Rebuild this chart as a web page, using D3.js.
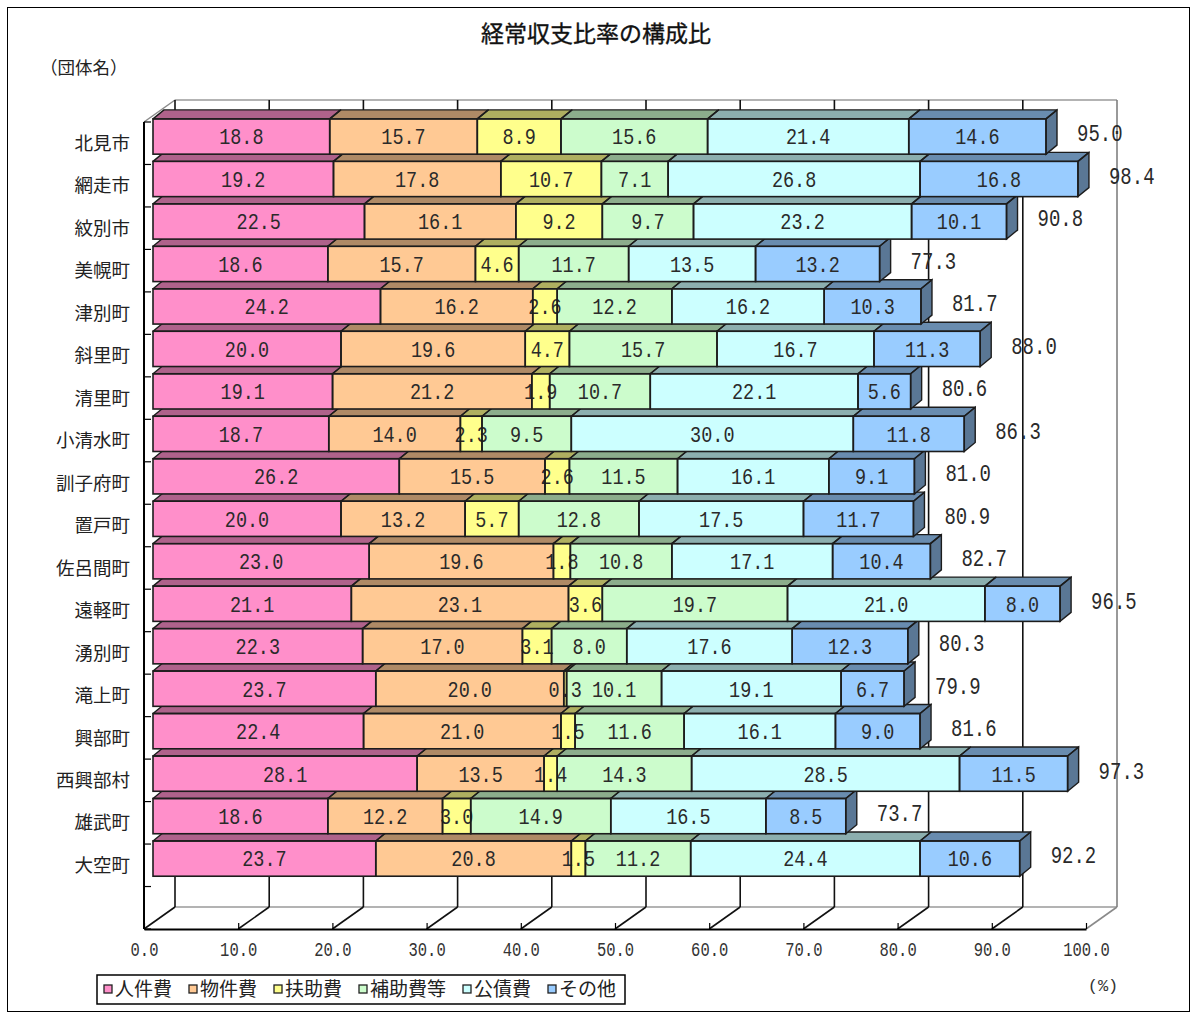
<!DOCTYPE html>
<html>
<head>
<meta charset="utf-8">
<script src="https://cdn.jsdelivr.net/npm/d3@7"></script>
<style>
  body { margin: 0; background: #fff; }
  svg { display: block; }
</style>
</head>
<body>
<svg id="chart" width="1197" height="1019"></svg>
<script>
// ---- data -------------------------------------------------------------
const categories = ["北見市", "網走市", "紋別市", "美幌町", "津別町", "斜里町", "清里町", "小清水町", "訓子府町",
  "置戸町", "佐呂間町", "遠軽町", "湧別町", "滝上町", "興部町", "西興部村", "雄武町", "大空町"];
const seriesNames = ["人件費", "物件費", "扶助費", "補助費等", "公債費", "その他"];

const personnel = [18.8, 19.2, 22.5, 18.6, 24.2, 20.0, 19.1, 18.7, 26.2, 20.0, 23.0, 21.1, 22.3, 23.7, 22.4, 28.1, 18.6, 23.7];
const goods     = [15.7, 17.8, 16.1, 15.7, 16.2, 19.6, 21.2, 14.0, 15.5, 13.2, 19.6, 23.1, 17.0, 20.0, 21.0, 13.5, 12.2, 20.8];
const welfare   = [8.9, 10.7, 9.2, 4.6, 2.6, 4.7, 1.9, 2.3, 2.6, 5.7, 1.8, 3.6, 3.1, 0.3, 1.5, 1.4, 3.0, 1.5];
const subsidies = [15.6, 7.1, 9.7, 11.7, 12.2, 15.7, 10.7, 9.5, 11.5, 12.8, 10.8, 19.7, 8.0, 10.1, 11.6, 14.3, 14.9, 11.2];
const debt      = [21.4, 26.8, 23.2, 13.5, 16.2, 16.7, 22.1, 30.0, 16.1, 17.5, 17.1, 21.0, 17.6, 19.1, 16.1, 28.5, 16.5, 24.4];
const other     = [14.6, 16.8, 10.1, 13.2, 10.3, 11.3, 5.6, 11.8, 9.1, 11.7, 10.4, 8.0, 12.3, 6.7, 9.0, 11.5, 8.5, 10.6];
const totals    = [95.0, 98.4, 90.8, 77.3, 81.7, 88.0, 80.6, 86.3, 81.0, 80.9, 82.7, 96.5, 80.3, 79.9, 81.6, 97.3, 73.7, 92.2];

const xTickValues = [0, 10, 20, 30, 40, 50, 60, 70, 80, 90, 100];

// ---- styles -----------------------------------------------------------
const seriesColors = ["#ff8fca", "#ffc994", "#ffff8c", "#ccfccc", "#ccffff", "#99ccff"];
const jpFont = "'Noto Sans CJK JP', 'Noto Sans', sans-serif";
const numFont = "'Liberation Mono', 'DejaVu Sans Mono', monospace";
const edge = "#1c1c1c";

const table = categories.map((name, i) => ({
  name,
  "人件費": personnel[i], "物件費": goods[i], "扶助費": welfare[i],
  "補助費等": subsidies[i], "公債費": debt[i], "その他": other[i],
  total: totals[i]
}));
const stacked = d3.stack().keys(seriesNames)(table);

// ---- geometry of the 3-D box -----------------------------------------
const svg = d3.select("#chart");
const frontTop = 122, frontBottom = 929;
const depthX = 31, depthY = -22;           // offset from the front plane to the back wall
const barDX = 11, barDY = -9;               // thickness of each bar
const barShiftX = 9, barShiftY = -6.7;      // bars sit a little behind the front plane

const xFront = d3.scaleLinear().domain([0, 100]).range([144, 1086]);
const xBack = d3.scaleLinear().domain([0, 100]).range([144 + depthX, 1086 + depthX]);
const xBar = d3.scaleLinear().domain([0, 100]).range([144 + barShiftX, 1084 + barShiftX]);

// the category axis has one empty slot below the last municipality
const slot = (frontBottom - frontTop) / (categories.length + 1);
const y = d3.scaleBand().domain(categories)
  .range([frontTop, frontTop + slot * categories.length])
  .paddingInner(0.17).paddingOuter(0.085);

const backTop = frontTop + depthY, backBottom = frontBottom + depthY;

// outer frame
svg.append("rect").attr("x", 7.5).attr("y", 7.5).attr("width", 1182).attr("height", 1004)
  .attr("fill", "#fff").attr("stroke", "#000").attr("stroke-width", 1);

// title
svg.append("text").attr("x", 596).attr("y", 42).attr("text-anchor", "middle")
  .attr("font-family", jpFont).attr("font-size", 23).attr("fill", "#111")
  .attr("stroke", "#111").attr("stroke-width", 0.35)
  .text("経常収支比率の構成比");

svg.append("text").attr("x", 40).attr("y", 74)
  .attr("font-family", jpFont).attr("font-size", 17.5).attr("fill", "#222")
  .text("（団体名）");

// ---- walls and floor ---------------------------------------------------
const box = svg.append("g").attr("fill", "none");
// back wall frame
box.append("line").attr("x1", xBack(0)).attr("x2", xBack(100)).attr("y1", backTop).attr("y2", backTop)
  .attr("stroke", "#9a9a9a").attr("stroke-width", 1.5);
box.append("line").attr("x1", xBack(0)).attr("x2", xBack(100)).attr("y1", backBottom).attr("y2", backBottom)
  .attr("stroke", "#9a9a9a").attr("stroke-width", 1.5);
box.append("line").attr("x1", xBack(100)).attr("x2", xBack(100)).attr("y1", backTop).attr("y2", backBottom)
  .attr("stroke", "#777").attr("stroke-width", 1.5);
// left wall edge
box.append("line").attr("x1", xFront(0)).attr("y1", frontTop).attr("x2", xBack(0)).attr("y2", backTop)
  .attr("stroke", "#8a8a8a").attr("stroke-width", 1.5);
// vertical gridlines on the back wall
box.selectAll("line.grid").data(xTickValues.filter(d => d < 100)).join("line")
  .attr("class", "grid")
  .attr("x1", d => xBack(d)).attr("x2", d => xBack(d))
  .attr("y1", backTop).attr("y2", backBottom)
  .attr("stroke", "#111").attr("stroke-width", 1.6);
// floor diagonals
box.selectAll("line.floor").data(xTickValues).join("line")
  .attr("class", "floor")
  .attr("x1", d => xFront(d)).attr("y1", frontBottom)
  .attr("x2", d => xBack(d)).attr("y2", backBottom)
  .attr("stroke", d => d === 100 ? "#8a8a8a" : "#111").attr("stroke-width", 1.6);

// front value axis
const xAxis = svg.append("g").attr("transform", `translate(0,${frontBottom})`)
  .call(d3.axisBottom(xFront).tickValues(xTickValues).tickSizeInner(-6).tickSizeOuter(0)
    .tickFormat(d3.format(".1f")));
xAxis.select(".domain").attr("stroke", "#000").attr("stroke-width", 2);
xAxis.selectAll(".tick line").attr("stroke", "#000").attr("stroke-width", 1.2);
xAxis.selectAll(".tick text")
  .attr("y", null).attr("dy", "0.36em")
  .attr("transform", "translate(0,19) scale(1,1.35)")
  .attr("font-family", numFont).attr("font-size", 15.5).attr("fill", "#333");

// front category axis
const catAxis = svg.append("g");
catAxis.append("line").attr("x1", xFront(0)).attr("x2", xFront(0)).attr("y1", frontTop).attr("y2", frontBottom)
  .attr("stroke", "#000").attr("stroke-width", 2);
catAxis.selectAll("line.tick").data(d3.range(categories.length + 2)).join("line")
  .attr("class", "tick")
  .attr("x1", xFront(0)).attr("x2", xFront(0) + 7)
  .attr("y1", i => frontTop + i * slot).attr("y2", i => frontTop + i * slot)
  .attr("stroke", "#000").attr("stroke-width", 1.2);
catAxis.selectAll("text").data(categories).join("text")
  .attr("x", 130).attr("y", d => y(d) + y.bandwidth() / 2)
  .attr("dy", "0.36em").attr("text-anchor", "end")
  .attr("font-family", jpFont).attr("font-size", 18.5).attr("fill", "#222")
  .text(d => d);

// ---- bars ----------------------------------------------------------------
const bw = y.bandwidth();
const rowsLayer = svg.append("g");

// draw from the bottom row up so each bar overlaps the top face of the row beneath
d3.range(categories.length).reverse().forEach(i => {
  const row = table[i];
  const top = y(row.name) + barShiftY;
  const g = rowsLayer.append("g");
  const segs = stacked.map((s, k) => ({
    key: s.key, k, v: row[s.key],
    x0: xBar(s[i][0]), x1: xBar(s[i][1])
  }));
  const last = segs[segs.length - 1];

  const topFace = d => `M${d.x0},${top}L${d.x0 + barDX},${top + barDY}L${d.x1 + barDX},${top + barDY}L${d.x1},${top}Z`;
  const sideFace = d => `M${d.x1},${top}L${d.x1 + barDX},${top + barDY}L${d.x1 + barDX},${top + bw + barDY}L${d.x1},${top + bw}Z`;

  // fills
  g.selectAll("path.top").data(segs).join("path").attr("class", "top")
    .attr("d", topFace).attr("fill", d => d3.color(seriesColors[d.k]).darker(1.05));
  g.append("path").attr("d", sideFace(last)).attr("fill", d3.color(seriesColors[last.k]).darker(1.5));
  g.selectAll("rect.front").data(segs).join("rect").attr("class", "front")
    .attr("x", d => d.x0).attr("y", top).attr("width", d => d.x1 - d.x0).attr("height", bw)
    .attr("fill", d => seriesColors[d.k]);

  // value labels
  g.selectAll("text.val").data(segs).join("text").attr("class", "val")
    .attr("transform", d => `translate(${(d.x0 + d.x1) / 2},${top + bw / 2}) scale(1,1.18)`)
    .attr("dy", "0.36em").attr("text-anchor", "middle")
    .attr("font-family", numFont).attr("font-size", 18.5).attr("fill", "#2a2a2a")
    .text(d => d.v.toFixed(1));

  // edges
  g.selectAll("path.topEdge").data(segs).join("path").attr("class", "topEdge")
    .attr("d", topFace).attr("fill", "none").attr("stroke", edge).attr("stroke-width", 1.4)
    .attr("stroke-linejoin", "round");
  g.append("path").attr("d", sideFace(last)).attr("fill", "none").attr("stroke", edge).attr("stroke-width", 1.4);
  g.selectAll("rect.frontEdge").data(segs).join("rect").attr("class", "frontEdge")
    .attr("x", d => d.x0).attr("y", top).attr("width", d => d.x1 - d.x0).attr("height", bw)
    .attr("fill", "none").attr("stroke", edge).attr("stroke-width", 1.6);

  // total label to the right of the bar
  g.append("text")
    .attr("transform", `translate(${xBar(row.total) + barDX + 20},${top + bw / 2 - 4}) scale(1,1.3)`)
    .attr("dy", "0.36em")
    .attr("font-family", numFont).attr("font-size", 19).attr("fill", "#2a2a2a")
    .text(row.total.toFixed(1));
});

// ---- legend & unit -------------------------------------------------------
const legend = svg.append("g");
const legendFont = 19;
let lx = 104;
const items = seriesNames.map((name, k) => {
  const it = { name, k, x: lx };
  lx += 12 + name.length * legendFont + 16;
  return it;
});
legend.append("rect").attr("x", 97).attr("y", 975).attr("width", lx - 97 - 8).attr("height", 29)
  .attr("fill", "#fff").attr("stroke", "#000").attr("stroke-width", 1.5);
legend.selectAll("rect.key").data(items).join("rect").attr("class", "key")
  .attr("x", d => d.x).attr("y", 985).attr("width", 8).attr("height", 8)
  .attr("fill", d => seriesColors[d.k]).attr("stroke", "#222").attr("stroke-width", 1.3);
legend.selectAll("text").data(items).join("text")
  .attr("x", d => d.x + 11).attr("y", 989.5).attr("dy", "0.36em")
  .attr("font-family", jpFont).attr("font-size", legendFont).attr("fill", "#222")
  .text(d => d.name);

svg.append("text").attr("x", 1103).attr("y", 985).attr("dy", "0.36em").attr("text-anchor", "middle")
  .attr("font-family", numFont).attr("font-size", 17).attr("fill", "#333")
  .text("(%)");
</script>
</body>
</html>
